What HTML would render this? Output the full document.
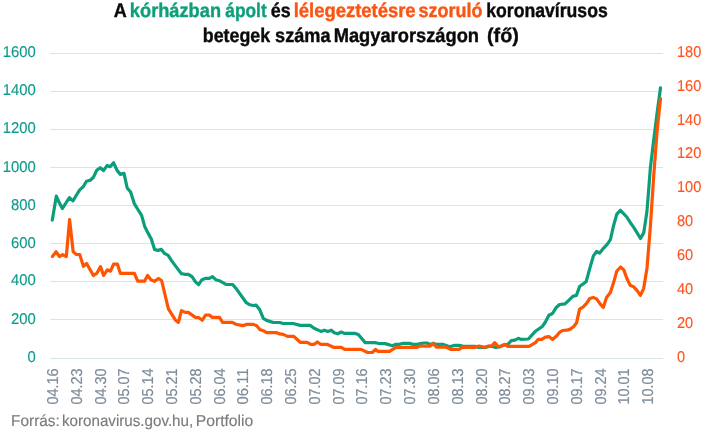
<!DOCTYPE html>
<html lang="hu">
<head>
<meta charset="utf-8">
<title>A kórházban ápolt és lélegeztetésre szoruló koronavírusos betegek száma Magyarországon (fő)</title>
<style>
html,body{margin:0;padding:0;background:#fff;}
body{width:705px;height:430px;overflow:hidden;}
svg{display:block;font-family:"Liberation Sans", Arial, sans-serif;text-rendering:geometricPrecision;}

.t{font-weight:bold;font-size:19.7px;stroke-width:0.4px;}
.k.t{stroke:#0a0a0a;}
.g.t{stroke:#0f9e7c;}
.o.t{stroke:#fb5512;}
.k{fill:#0a0a0a;}
.g{fill:#0f9e7c;}
.o{fill:#fb5512;}
.ly{font-size:15.7px;fill:#0d9b8c;stroke:#0d9b8c;stroke-width:0.15px;}
.ry{font-size:15.7px;fill:#ff5520;stroke:#ff5520;stroke-width:0.15px;}
.xl{font-size:15.8px;fill:#7e8c9a;stroke:#7e8c9a;stroke-width:0.15px;}
.src{font-size:15.8px;fill:#7b7b7f;stroke:#7b7b7f;stroke-width:0.15px;}
</style>
</head>
<body>
<svg width="705" height="430" viewBox="0 0 705 430">
<rect width="705" height="430" fill="#fff"/>
<text class="t k" x="113.67" y="17.3" textLength="12.99" lengthAdjust="spacingAndGlyphs">A</text>
<text class="t g" x="129.87" y="17.3" textLength="91.17" lengthAdjust="spacingAndGlyphs">kórházban</text>
<text class="t g" x="225.37" y="17.3" textLength="41.28" lengthAdjust="spacingAndGlyphs">ápolt</text>
<text class="t k" x="270.7" y="17.3" textLength="19.9" lengthAdjust="spacingAndGlyphs">és</text>
<text class="t o" x="293.65" y="17.3" textLength="121.98" lengthAdjust="spacingAndGlyphs">lélegeztetésre</text>
<text class="t o" x="418.59" y="17.3" textLength="63.81" lengthAdjust="spacingAndGlyphs">szoruló</text>
<text class="t k" x="486.19" y="17.3" textLength="121.58" lengthAdjust="spacingAndGlyphs">koronavírusos</text>
<text class="t k" x="202.85" y="41.5" textLength="67.26" lengthAdjust="spacingAndGlyphs">betegek</text>
<text class="t k" x="275.05" y="41.5" textLength="55.49" lengthAdjust="spacingAndGlyphs">száma</text>
<text class="t k" x="333.69" y="41.5" textLength="145.34" lengthAdjust="spacingAndGlyphs">Magyarországon</text>
<text class="t k" x="487.04" y="41.5" textLength="31.79" lengthAdjust="spacingAndGlyphs">(fő)</text>
<g fill="#d9e5e2">
<rect x="50" y="53" width="613" height="1"/>
<rect x="50" y="91" width="613" height="1"/>
<rect x="50" y="129" width="613" height="1"/>
<rect x="50" y="167" width="613" height="1"/>
<rect x="50" y="205" width="613" height="1"/>
<rect x="50" y="243" width="613" height="1"/>
<rect x="50" y="281" width="613" height="1"/>
<rect x="50" y="319" width="613" height="1"/>
<rect x="50" y="358" width="613" height="1"/>
</g>
<text class="ly" transform="translate(35.7,361.60) scale(0.945,1)" text-anchor="end">0</text>
<text class="ly" transform="translate(35.7,323.80) scale(0.945,1)" text-anchor="end">200</text>
<text class="ly" transform="translate(35.7,285.40) scale(0.945,1)" text-anchor="end">400</text>
<text class="ly" transform="translate(35.7,247.80) scale(0.945,1)" text-anchor="end">600</text>
<text class="ly" transform="translate(35.7,209.60) scale(0.945,1)" text-anchor="end">800</text>
<text class="ly" transform="translate(35.7,172.10) scale(0.945,1)" text-anchor="end">1000</text>
<text class="ly" transform="translate(35.7,132.90) scale(0.945,1)" text-anchor="end">1200</text>
<text class="ly" transform="translate(35.7,95.00) scale(0.945,1)" text-anchor="end">1400</text>
<text class="ly" transform="translate(35.7,57.00) scale(0.945,1)" text-anchor="end">1600</text>
<text class="ry" transform="translate(677.0,361.75) scale(0.93,1)">0</text>
<text class="ry" transform="translate(677.0,327.87) scale(0.93,1)">20</text>
<text class="ry" transform="translate(677.0,293.99) scale(0.93,1)">40</text>
<text class="ry" transform="translate(677.0,260.12) scale(0.93,1)">60</text>
<text class="ry" transform="translate(677.0,226.24) scale(0.93,1)">80</text>
<text class="ry" transform="translate(677.0,192.36) scale(0.93,1)">100</text>
<text class="ry" transform="translate(677.0,158.48) scale(0.93,1)">120</text>
<text class="ry" transform="translate(677.0,124.61) scale(0.93,1)">140</text>
<text class="ry" transform="translate(677.0,90.73) scale(0.93,1)">160</text>
<text class="ry" transform="translate(677.0,56.85) scale(0.93,1)">180</text>
<text class="xl" transform="translate(57.9,404.6) rotate(-90)" textLength="36.2" lengthAdjust="spacingAndGlyphs">04.16</text>
<text class="xl" transform="translate(81.7,404.6) rotate(-90)" textLength="36.2" lengthAdjust="spacingAndGlyphs">04.23</text>
<text class="xl" transform="translate(105.5,404.6) rotate(-90)" textLength="36.2" lengthAdjust="spacingAndGlyphs">04.30</text>
<text class="xl" transform="translate(129.3,404.6) rotate(-90)" textLength="36.2" lengthAdjust="spacingAndGlyphs">05.07</text>
<text class="xl" transform="translate(153.1,404.6) rotate(-90)" textLength="36.2" lengthAdjust="spacingAndGlyphs">05.14</text>
<text class="xl" transform="translate(176.9,404.6) rotate(-90)" textLength="36.2" lengthAdjust="spacingAndGlyphs">05.21</text>
<text class="xl" transform="translate(200.8,404.6) rotate(-90)" textLength="36.2" lengthAdjust="spacingAndGlyphs">05.28</text>
<text class="xl" transform="translate(224.6,404.6) rotate(-90)" textLength="36.2" lengthAdjust="spacingAndGlyphs">06.04</text>
<text class="xl" transform="translate(248.4,404.6) rotate(-90)" textLength="36.2" lengthAdjust="spacingAndGlyphs">06.11</text>
<text class="xl" transform="translate(272.2,404.6) rotate(-90)" textLength="36.2" lengthAdjust="spacingAndGlyphs">06.18</text>
<text class="xl" transform="translate(296.0,404.6) rotate(-90)" textLength="36.2" lengthAdjust="spacingAndGlyphs">06.25</text>
<text class="xl" transform="translate(319.8,404.6) rotate(-90)" textLength="36.2" lengthAdjust="spacingAndGlyphs">07.02</text>
<text class="xl" transform="translate(343.6,404.6) rotate(-90)" textLength="36.2" lengthAdjust="spacingAndGlyphs">07.09</text>
<text class="xl" transform="translate(367.4,404.6) rotate(-90)" textLength="36.2" lengthAdjust="spacingAndGlyphs">07.16</text>
<text class="xl" transform="translate(391.2,404.6) rotate(-90)" textLength="36.2" lengthAdjust="spacingAndGlyphs">07.23</text>
<text class="xl" transform="translate(415.0,404.6) rotate(-90)" textLength="36.2" lengthAdjust="spacingAndGlyphs">07.30</text>
<text class="xl" transform="translate(438.9,404.6) rotate(-90)" textLength="36.2" lengthAdjust="spacingAndGlyphs">08.06</text>
<text class="xl" transform="translate(462.7,404.6) rotate(-90)" textLength="36.2" lengthAdjust="spacingAndGlyphs">08.13</text>
<text class="xl" transform="translate(486.5,404.6) rotate(-90)" textLength="36.2" lengthAdjust="spacingAndGlyphs">08.20</text>
<text class="xl" transform="translate(510.3,404.6) rotate(-90)" textLength="36.2" lengthAdjust="spacingAndGlyphs">08.27</text>
<text class="xl" transform="translate(534.1,404.6) rotate(-90)" textLength="36.2" lengthAdjust="spacingAndGlyphs">09.03</text>
<text class="xl" transform="translate(557.9,404.6) rotate(-90)" textLength="36.2" lengthAdjust="spacingAndGlyphs">09.10</text>
<text class="xl" transform="translate(581.7,404.6) rotate(-90)" textLength="36.2" lengthAdjust="spacingAndGlyphs">09.17</text>
<text class="xl" transform="translate(605.5,404.6) rotate(-90)" textLength="36.2" lengthAdjust="spacingAndGlyphs">09.24</text>
<text class="xl" transform="translate(629.3,404.6) rotate(-90)" textLength="36.2" lengthAdjust="spacingAndGlyphs">10.01</text>
<text class="xl" transform="translate(653.2,404.6) rotate(-90)" textLength="36.2" lengthAdjust="spacingAndGlyphs">10.08</text>
<polyline points="52.3,220.1 56.3,196.2 59.2,202.5 62.4,208.5 65.9,203.0 69.4,197.7 73.0,200.9 76.2,195.5 79.7,189.9 83.2,186.8 86.5,181.3 90.2,180.2 93.5,177.2 96.7,170.3 100.3,167.7 103.5,170.6 107.0,165.6 110.2,166.6 113.6,162.8 117.2,170.6 120.4,174.4 124.0,173.4 127.2,188.0 130.6,192.1 134.3,203.6 137.9,209.5 141.6,215.3 144.6,226.2 147.9,232.9 151.3,239.0 154.6,249.6 158.1,250.4 161.4,249.4 164.5,253.4 168.2,255.3 171.5,260.6 181.3,273.6 184.8,274.3 188.4,274.3 192.0,276.6 195.5,281.8 198.6,284.7 202.0,279.7 205.7,278.3 209.3,278.3 212.5,276.6 215.7,279.7 219.3,280.7 226.0,284.4 232.6,284.5 236.2,288.6 246.3,302.7 249.9,304.8 253.1,305.5 256.2,305.2 259.8,309.8 263.3,318.3 266.6,320.4 273.3,322.5 279.6,322.5 283.2,323.5 293.1,323.5 300.2,325.4 310.1,325.4 314.1,328.2 321.0,331.4 324.3,330.2 327.8,331.5 331.3,330.2 334.2,332.7 337.7,333.8 341.3,332.0 344.3,333.4 354.8,333.4 358.3,334.5 365.2,342.6 374.6,342.6 378.2,343.3 385.2,343.6 392.3,345.7 395.9,344.3 399.4,344.3 403.0,343.3 409.4,343.3 412.9,344.4 417.0,344.4 423.5,343.0 427.0,343.0 430.6,344.4 433.4,343.3 436.2,344.4 443.3,344.4 449.7,346.8 454.0,345.4 459.6,345.4 463.2,346.4 475.2,346.4 478.8,347.5 485.2,347.5 488.7,346.4 492.2,346.4 495.8,347.5 499.4,347.0 502.5,345.4 507.8,344.3 511.3,340.7 514.9,340.1 518.4,338.3 521.3,339.4 528.4,339.0 535.5,331.2 542.6,326.2 545.4,322.0 548.9,315.3 552.5,313.5 556.0,307.8 559.6,304.5 565.0,303.9 568.5,300.6 572.8,296.4 576.4,295.4 579.6,286.6 583.0,284.0 586.2,281.5 589.8,268.4 593.4,255.9 596.6,251.5 599.6,253.1 602.9,248.9 607.0,244.6 610.4,239.7 613.6,225.5 616.8,214.1 620.4,210.3 626.8,217.0 630.4,222.7 633.9,227.6 640.5,238.5 643.8,232.6 647.0,211.0 650.4,167.5 653.8,139.5 657.1,113.0 660.5,87.8" fill="none" stroke="#0a9e7b" stroke-width="3.2" stroke-linejoin="round" stroke-linecap="round"/>
<polyline points="52.4,256.5 56.1,251.8 59.4,256.5 62.7,254.7 66.3,256.5 69.6,219.6 73.2,251.8 76.2,254.4 79.8,254.6 83.4,266.4 86.6,263.5 93.4,275.5 97.0,273.1 100.5,266.6 103.6,275.5 107.3,269.8 110.5,271.2 113.6,264.1 117.4,264.1 120.4,273.4 134.4,273.4 137.7,281.2 144.5,281.2 147.6,275.5 150.9,279.8 154.4,281.4 158.5,278.5 161.6,280.5 168.4,308.9 172.0,314.6 175.5,320.2 178.4,322.4 181.5,310.6 185.2,312.4 188.3,312.4 195.4,317.4 198.9,317.7 202.3,320.2 205.6,315.0 209.4,315.0 212.4,317.4 219.5,317.4 222.6,322.4 232.3,322.4 235.9,324.2 242.8,325.6 247.0,324.4 253.4,324.4 256.7,325.8 259.8,329.6 263.3,330.7 266.6,332.7 276.1,332.5 279.6,333.9 283.2,334.4 287.4,336.4 293.8,336.4 300.2,342.3 307.2,342.3 310.7,344.3 314.2,344.3 317.4,342.0 320.6,344.3 327.0,344.3 333.5,347.3 341.3,347.3 344.8,349.4 361.1,349.4 367.5,352.5 372.3,352.5 375.6,349.4 378.2,351.4 389.5,351.4 395.9,347.3 417.1,347.3 419.9,346.1 429.9,346.1 433.4,343.6 436.2,347.1 446.2,347.1 450.4,349.4 458.9,349.4 462.5,347.3 475.2,347.3 478.8,346.1 485.2,347.3 488.0,346.1 491.6,346.1 494.7,342.6 497.9,346.6 501.5,346.1 504.6,344.4 507.9,346.4 529.1,346.4 535.5,342.6 538.3,339.3 541.8,339.3 545.4,337.2 548.9,336.6 552.5,339.4 556.0,336.6 559.6,332.3 562.4,330.5 566.7,330.2 570.2,329.1 573.8,326.5 576.6,322.7 579.6,309.2 583.0,307.1 586.3,303.7 589.8,298.5 593.3,297.5 596.6,298.9 600.1,303.9 603.3,307.4 606.5,297.5 610.4,292.6 613.6,282.6 616.7,271.3 620.6,267.0 623.8,269.9 627.0,278.8 630.2,285.2 633.8,286.9 637.3,290.9 640.4,295.4 643.7,288.3 647.0,268.0 650.4,226.0 653.8,175.0 657.1,131.0 660.5,98.5" fill="none" stroke="#ff5500" stroke-width="3.2" stroke-linejoin="round" stroke-linecap="round"/>
<text class="src" x="11.05" y="425.6" textLength="48.82" lengthAdjust="spacingAndGlyphs">Forrás:</text>
<text class="src" x="62.03" y="425.6" textLength="131.17" lengthAdjust="spacingAndGlyphs">koronavirus.gov.hu,</text>
<text class="src" x="195.75" y="425.6" textLength="57.54" lengthAdjust="spacingAndGlyphs">Portfolio</text>
</svg>
</body>
</html>
